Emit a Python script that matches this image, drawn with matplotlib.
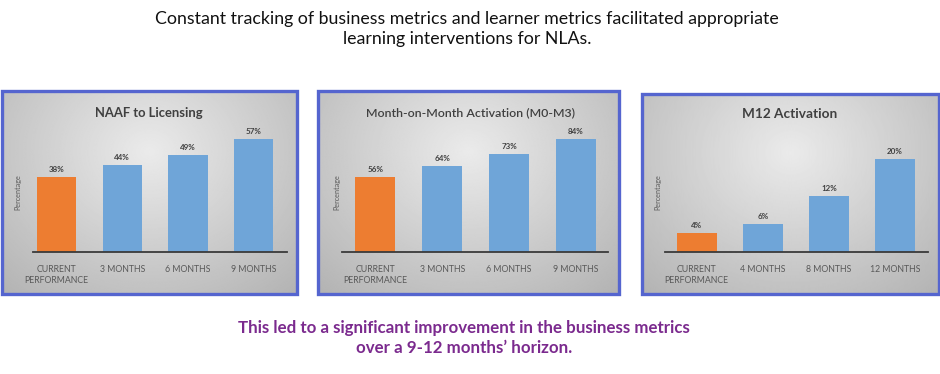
import numpy as np
import matplotlib
matplotlib.use('Agg')
import matplotlib.pyplot as plt
from matplotlib.patches import Rectangle

plt.rcParams['font.family'] = ['Lato', 'DejaVu Sans']

# data
cats_a = ['CURRENT\nPERFORMANCE', '3 MONTHS', '6 MONTHS', '9 MONTHS']
naaf = [38, 44, 49, 57]
mom = [56, 64, 73, 84]
cats_b = ['CURRENT\nPERFORMANCE', '4 MONTHS', '8 MONTHS', '12 MONTHS']
m12 = [4, 6, 12, 20]

titles = ['NAAF to Licensing', 'Month-on-Month Activation (M0-M3)', 'M12 Activation']
heading = ('Constant tracking of business metrics and learner metrics facilitated appropriate\n'
           'learning interventions for NLAs.')
footer = ('This led to a significant improvement in the business metrics\n'
          'over a 9-12 months\u2019 horizon.')

ORANGE = '#ED7D31'
BLUE = '#6FA5D8'
BORDER = '#5565CF'
W, H = 940, 374

fig = plt.figure(figsize=(W / 100, H / 100), dpi=100)


def px_rect(x0, y0, x1, y1):
    return [x0 / W, 1 - y1 / H, (x1 - x0) / W, (y1 - y0) / H]


def panel_background(x0, y0, x1, y1):
    bg = fig.add_axes(px_rect(x0, y0, x1, y1), zorder=0)
    yy, xx = np.mgrid[0:1:200j, 0:1:300j]
    d = np.sqrt(((xx - 0.5) / 0.75) ** 2 + ((yy - 0.3) / 0.95) ** 2)
    shade = 0.92 - 0.22 * np.clip(d, 0, 1)
    bg.imshow(shade, cmap='gray', vmin=0, vmax=1, aspect='auto',
              extent=(0, 1, 1, 0), interpolation='bilinear')
    bg.set_xlim(0, 1)
    bg.set_ylim(1, 0)
    bg.axis('off')
    fig.patches.append(Rectangle((x0 / W, 1 - y1 / H), (x1 - x0) / W, (y1 - y0) / H,
                                 transform=fig.transFigure, fill=False,
                                 edgecolor=BORDER, linewidth=2.4, zorder=5))


def panel(x0, x1, base, ymax, scale, cats, vals, title, title_xy, title_kw, ylab_x, xl):
    top = base - ymax * scale
    ax = fig.add_axes(px_rect(x0, top, x1, base), zorder=2)
    ax.patch.set_alpha(0)
    colors = [ORANGE] + [BLUE] * (len(vals) - 1)
    xs = np.arange(len(vals))
    ax.bar(xs, vals, width=0.6, color=colors, edgecolor='none')
    for x, v in zip(xs, vals):
        ax.annotate(f'{v}%', (x, v), xytext=(0, 3), textcoords='offset points',
                    ha='center', va='bottom', fontsize=5.8, fontweight='bold',
                    color='#404040')
    ax.set_ylim(0, ymax)
    ax.set_xlim(*xl)
    ax.set_xticks(xs)
    ax.set_xticklabels(cats, fontsize=6.3, color='#595959', linespacing=1.3)
    ax.tick_params(axis='x', length=0, pad=9)
    ax.set_yticks([])
    for s in ['top', 'right', 'left']:
        ax.spines[s].set_visible(False)
    ax.spines['bottom'].set_color('#3a3a3a')
    ax.spines['bottom'].set_linewidth(1.3)
    fig.text(title_xy[0] / W, 1 - title_xy[1] / H, title, ha='center', va='center',
             color='#404040', **title_kw)
    fig.text(ylab_x / W, 1 - 192 / H, 'Percentage', rotation=90, ha='center',
             va='center', fontsize=5.2, color='#595959')


panel_background(1.5, 91.5, 296.5, 293.5)
panel_background(318, 91.5, 619, 293.5)
panel_background(641.5, 93.5, 938.5, 293.5)

panel(33, 287, 252, 60, 1.975, cats_a, naaf, titles[0], (149, 113),
      dict(fontsize=9.4, fontweight='bold'), 18, (-0.36, 3.51))
panel(342, 608, 252, 90, 1.343, cats_a, mom, titles[1], (470, 113),
      dict(fontsize=8.9, fontweight='semibold'), 337, (-0.5, 3.48))
panel(665, 928, 252, 22, 4.65, cats_b, m12, titles[2], (790, 114),
      dict(fontsize=9.8, fontweight='bold'), 658, (-0.48, 3.5))

fig.text(467 / W, 1 - 29 / H, heading, ha='center', va='center', fontsize=12.8,
         color='#111111', linespacing=1.3)
fig.text(464 / W, 1 - 338 / H, footer, ha='center', va='center', fontsize=12.2,
         fontweight='bold', color='#7B2A8E', linespacing=1.3)

fig.savefig('out.png', dpi=100)
